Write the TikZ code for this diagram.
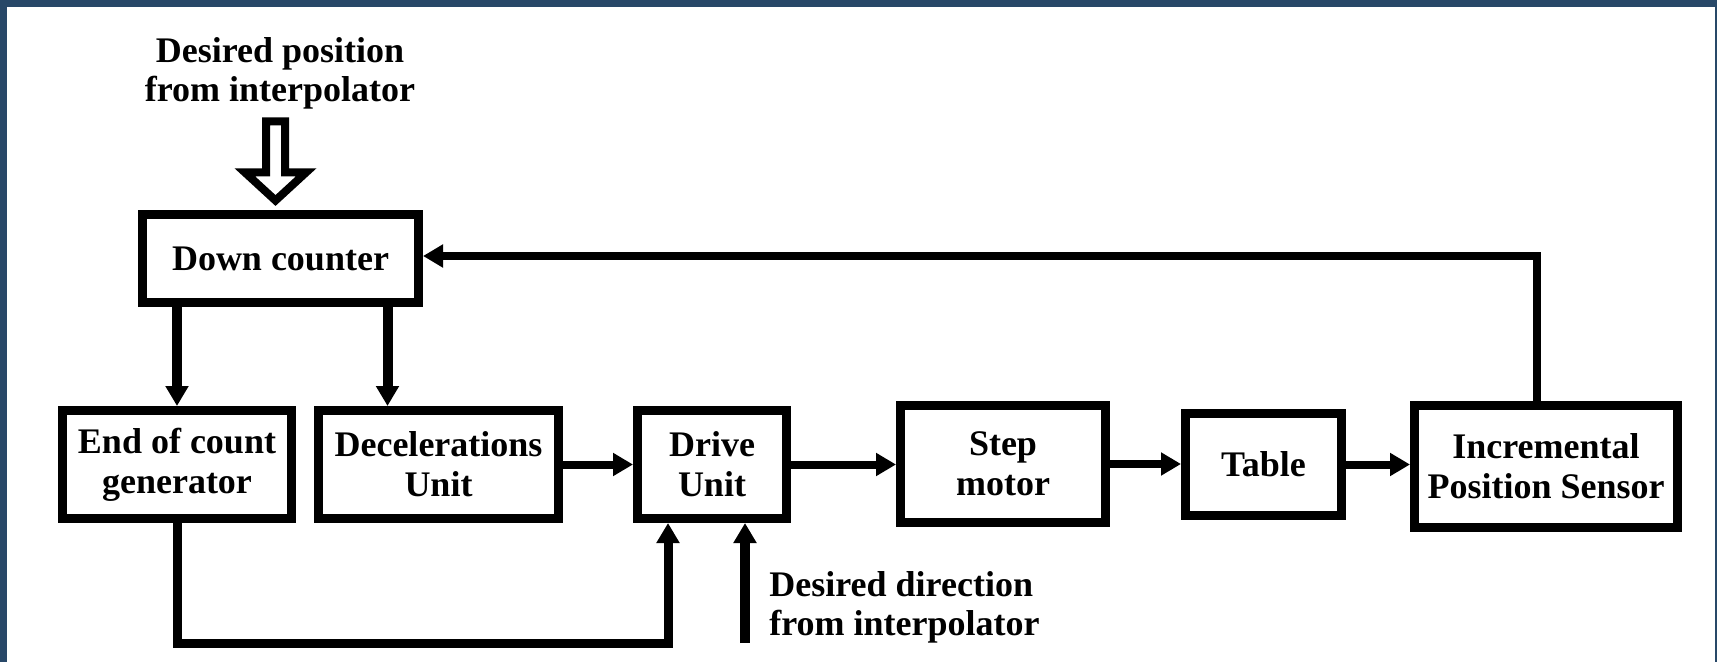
\documentclass[tikz,border=0pt]{standalone}
\usepackage{fontspec}
\setmainfont{Liberation Serif}
\usetikzlibrary{arrows.meta,calc}
\definecolor{slideblue}{RGB}{40,72,104}
\tikzset{
  block/.style={draw,line width=4.5pt,align=center,inner sep=2pt,font=\bfseries\fontsize{18}{20}\selectfont},
  arr/.style={line width=4pt,-{Triangle[length=10pt,width=11pt]}},
  tallarr/.style={arr,line width=5pt},
  hollow/.style={line width=4pt,fill=white,line join=miter},
  lbl/.style={font=\bfseries\fontsize{18}{19.5}\selectfont,inner sep=0pt}
}
\begin{document}
\begin{tikzpicture}[x=0.5pt,y=-0.5pt]
\useasboundingbox (0,0) rectangle (1717,662);
\fill[slideblue] (0,0) rectangle (1717,662);
\fill[white] (7,7) rectangle (1715,662);
% blocks
\node[block,minimum width=138pt,minimum height=44pt] (down) at (280.5,258.5) {Down counter};
\node[block,minimum width=114.5pt,minimum height=54pt] (endc) at (177,464.5) {End of count\\generator};
\node[block,minimum width=120pt,minimum height=54pt] (decel) at (438.5,464.5) {Decelerations\\Unit};
\node[block,minimum width=74.5pt,minimum height=54pt] (drive) at (712,464.5) {Drive\\Unit};
\node[block,minimum width=102.5pt,minimum height=58.5pt] (step) at (1003,464) {Step\\motor};
\node[block,minimum width=78pt,minimum height=51pt] (table) at (1263.5,464.5) {Table};
\node[block,minimum width=131.5pt,minimum height=61pt] (sensor) at (1546,466.5) {Incremental\\Position Sensor};
% labels
\node[lbl,align=center] (posn) at (280,73) {Desired position\\from interpolator};
\node[lbl,align=left,anchor=west] (dirn) at (769,607) {Desired direction\\from interpolator};
% input from interpolator
\begin{scope}[shift={($(down.north)+(-5,0)$)}]
\draw[hollow] (-9.5,-88.5) -- (9.5,-88.5) -- (9.5,-37.5) -- (30.5,-37.5) -- (0,-9.5) -- (-30.5,-37.5) -- (-9.5,-37.5) -- cycle;
\end{scope}
% connectors
\coordinate (dtap) at ($(decel.north)+(-51,0)$);
\coordinate (etap) at ($(drive.south)+(-44,0)$);
\coordinate (dirfoot) at (745,643);
\coordinate (fback) at ($(down.east)+(0,-2.5)$);
\draw[tallarr] (endc.north |- down.south) -- (endc.north);
\draw[tallarr] (dtap |- down.south) -- (dtap);
\draw[arr] (decel.east) -- (decel.east -| drive.west);
\draw[arr] (drive.east) -- (drive.east -| step.west);
\draw[arr] (step.east) -- (step.east -| table.west);
\draw[arr] (table.east) -- (table.east -| sensor.west);
\draw[arr] ($(sensor.north)+(-9,0)$) |- (fback);
\draw[arr,line width=4.5pt] (endc.south) |- (etap |- dirfoot) -- (etap);
\draw[tallarr] (dirfoot) -- (dirfoot |- drive.south);
\end{tikzpicture}
\end{document}
